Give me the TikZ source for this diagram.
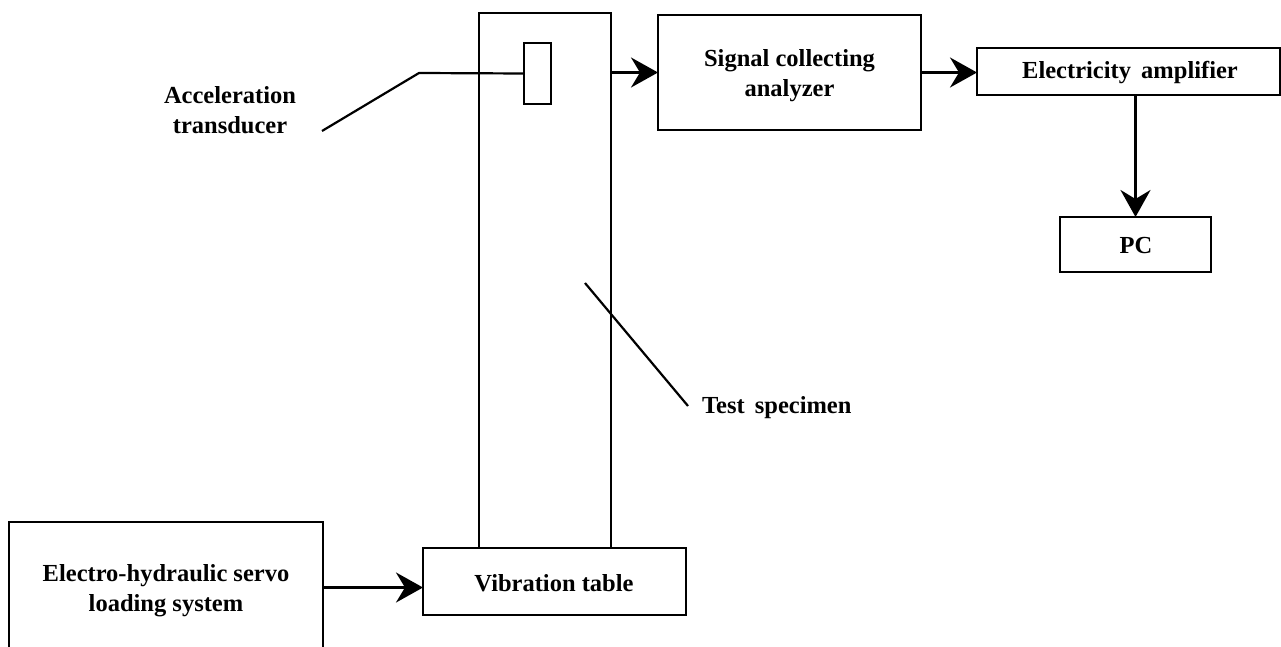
\documentclass[tikz,border=0pt]{standalone}
\usepackage{fontspec}
\setmainfont{Liberation Serif}
\usetikzlibrary{arrows.meta}
\begin{document}
\begin{tikzpicture}[x=1pt,y=-1pt,
  every node/.style={inner sep=0pt,outer sep=0pt},
  box/.style={draw,line width=2.6pt,rectangle},
  lbl/.style={font=\fontsize{24.5}{30}\selectfont\bfseries,align=center},
  arr/.style={line width=2.6pt,-{Stealth[length=27pt,width=30pt,inset=9pt]}},
  lead/.style={line width=2.2pt}]
\useasboundingbox (0,0) rectangle (1281,647);
% boxes
\node[box,minimum width=132pt,minimum height=535pt] (spec) at (545,280.5) {};
\node[box,minimum width=27pt,minimum height=61pt] (trans) at (537.5,73.5) {};
\node[box,minimum width=263pt,minimum height=115pt] (sig) at (789.5,72.5) {};
\node[box,minimum width=303pt,minimum height=47pt] (amp) at (1128.5,71.5) {};
\node[box,minimum width=151pt,minimum height=55pt] (pc) at (1135.5,244.5) {};
\node[box,fill=white,minimum width=263pt,minimum height=67pt] (vib) at (554.5,581.5) {};
\node[box,minimum width=314pt,minimum height=158pt] (elec) at (166,601) {};
% texts
\node[lbl] (sigt) at (789.5,76) {Signal collecting\\analyzer};
\node[lbl] (ampt) at (1130,73) {Electricity\, amplifier};
\node[lbl] (pct) at (1136,246) {PC};
\node[lbl] (vibt) at (554,583) {Vibration table};
\node[lbl] (elect) at (166,591) {Electro-hydraulic servo\\loading system};
\node[lbl] (acct) at (230,110) {Acceleration\\transducer};
\node[lbl,anchor=west] (testt) at (702,408) {Test\, specimen};
% leaders
\coordinate (k1) at (419,73);
\coordinate (k2) at (322,131);
\draw[lead] (trans.west) -- (k1) -- (k2);
\coordinate (t1) at (585,283);
\coordinate (t2) at (688,406);
\draw[lead] (t1) -- (t2);
% arrows
\draw[arr] (spec.east |- sig.west) -- (sig.west);
\draw[arr] (sig.east) -- (sig.east -| amp.west);
\draw[arr] (pc.north |- amp.south) -- (pc.north);
\draw[arr] ([yshift=-6pt]elec.east |- vib.west) -- ([yshift=-6pt]vib.west);
\end{tikzpicture}
\end{document}
